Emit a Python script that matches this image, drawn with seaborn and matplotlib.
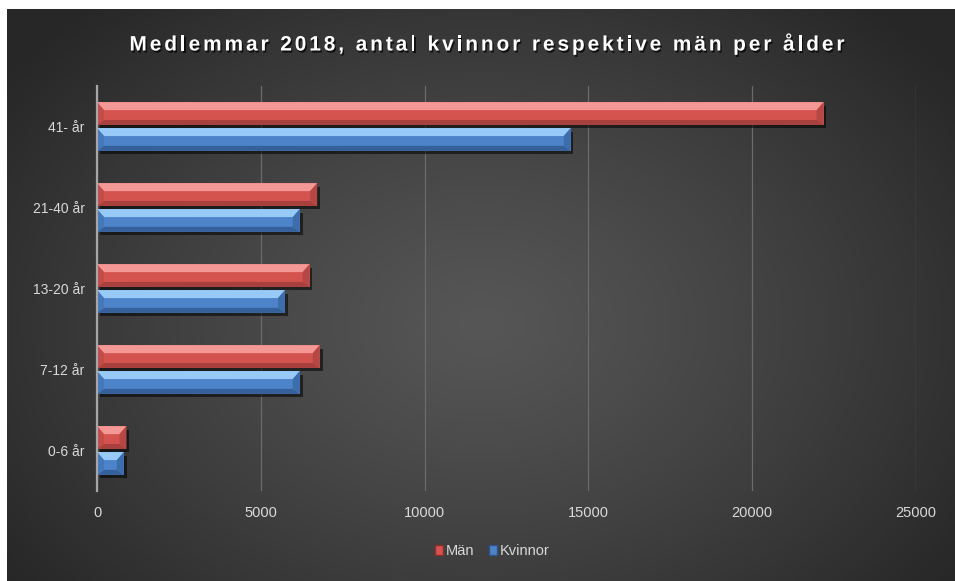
import numpy as np
import pandas as pd
import seaborn as sns
import matplotlib
matplotlib.use("Agg")
import matplotlib.pyplot as plt
from matplotlib import patheffects as pe
from matplotlib.patches import Polygon, Patch
from matplotlib.transforms import IdentityTransform
from matplotlib.font_manager import FontProperties, findfont, get_font

# data
categories = ["41- år", "21-40 år", "13-20 år", "7-12 år", "0-6 år"]
man = [22180, 6720, 6490, 6800, 900]
kvinnor = [14460, 6190, 5740, 6190, 820]
series = ["Män", "Kvinnor"]
xticks = [0, 5000, 10000, 15000, 20000, 25000]
title = "Medlemmar 2018, antal kvinnor respektive män per ålder"

df = pd.DataFrame({
    "Ålder": categories + categories,
    "Antal": man + kvinnor,
    "Kön": [series[0]] * len(man) + [series[1]] * len(kvinnor),
})

red = "#d4534f"
blue = "#4d84c9"
# light / dark facet colours for the bevel look
facets = {
    red: ("#f49896", "#a8403d", "#b54845", "#c24c48"),
    blue: ("#98caf8", "#36609a", "#3e6dab", "#4577bb"),
}
text_col = "#d9d9d9"

plt.rcParams["font.family"] = ["Liberation Sans", "DejaVu Sans"]

W, H = 955, 581
fig = plt.figure(figsize=(W / 100, H / 100), dpi=100)
fig.patch.set_facecolor("white")

# dark radial background
bg = fig.add_axes([7 / W, 0, (W - 7) / W, (H - 9) / H], zorder=0)
h, w = H - 9, W - 7
yy, xx = np.mgrid[0:h, 0:w]
r = np.sqrt(((xx - 0.5 * w) / (0.62 * w)) ** 2 + ((yy - 0.55 * h) / (0.75 * h)) ** 2)
r = np.clip(r, 0, 1)
shade = 0x56 - (0x56 - 0x27) * r ** 1.2
img = np.dstack([shade, shade, shade]) / 255.0
bg.imshow(img, aspect="auto", interpolation="bilinear")
bg.axis("off")

ax = fig.add_axes([97 / W, 1 - 491 / H, (916 - 97) / W, (491 - 86) / H], zorder=1)
ax.set_facecolor("none")

sns.barplot(data=df, x="Antal", y="Ålder", hue="Kön", orient="h",
            palette=[red, blue], saturation=1, width=0.64, gap=0.12,
            legend=False, ax=ax, zorder=3, edgecolor="none")

ax.set_xlim(0, 25000)
ax.set_xticks(xticks)
ax.set_xticklabels([str(t) for t in xticks])
ax.set_xlabel("")
ax.set_ylabel("")
ax.tick_params(axis="both", length=0, colors=text_col)
ax.tick_params(axis="x", pad=11, labelsize=10.5)
ax.tick_params(axis="y", pad=9, labelsize=10)
ax.grid(axis="x", color="#6b6b6b", lw=0.9, zorder=0)
ax.grid(axis="y", visible=False)
ax.set_axisbelow(True)
for s in ["top", "right", "bottom"]:
    ax.spines[s].set_visible(False)
ax.spines["left"].set_color("#a6a6a6")
ax.spines["left"].set_linewidth(1.6)
ax.spines["left"].set_zorder(5)

# bevel facets drawn in pixel space on top of each seaborn bar
fig.canvas.draw()
bars = list(ax.patches)
bt, bb_, bs = 8, 5, 7
for p in bars:
    col = matplotlib.colors.to_hex(p.get_facecolor())
    light, dark, right_c, left_c = facets[red if col == red else blue]
    p.set_path_effects([pe.SimplePatchShadow(offset=(2, -2.5), shadow_rgbFace="black", alpha=0.55), pe.Normal()])
    x0, y0 = p.get_x(), p.get_y()
    (px0, py_a), (px1, py_b) = ax.transData.transform([(x0, y0), (x0 + p.get_width(), y0 + p.get_height())])
    top, bot = max(py_a, py_b), min(py_a, py_b)
    s = min(bs, (px1 - px0) / 2)
    polys = [
        ([(px0, top), (px1, top), (px1 - s, top - bt), (px0 + s, top - bt)], light),
        ([(px0, bot), (px1, bot), (px1 - s, bot + bb_), (px0 + s, bot + bb_)], dark),
        ([(px1, top), (px1, bot), (px1 - s, bot + bb_), (px1 - s, top - bt)], right_c),
        ([(px0, top), (px0, bot), (px0 + s, bot + bb_), (px0 + s, top - bt)], left_c),
    ]
    for pts, c in polys:
        ax.add_patch(Polygon(pts, closed=True, facecolor=c, edgecolor="none",
                             transform=IdentityTransform(), zorder=4))

# legend
handles = [Patch(facecolor=red, edgecolor="#8a2f2c"), Patch(facecolor=blue, edgecolor="#2f5388")]
leg = fig.legend(handles, series, loc="center", bbox_to_anchor=(492 / W, 1 - 551 / H),
                 ncol=2, frameon=False, fontsize=10.5, labelcolor=text_col,
                 handlelength=0.55, handleheight=0.7, handletextpad=0.2, columnspacing=1.0)

# letter-spaced bold title with a drop shadow (advance widths from the font itself)
fp = FontProperties(family="Liberation Sans", weight="bold", size=15)
font = get_font(findfont(fp))
font.set_size(15, 100)
widths = []
for c in title:
    g = font.load_char(ord(c))
    widths.append(g.linearHoriAdvance / 65536)
target = 715
spacing = (target - sum(widths[:-1]) - widths[-1]) / (len(title) - 1)
x = 487 - target / 2
for c, wd in zip(title, widths):
    fig.text(x / W, 1 - 45 / H, c, fontproperties=fp, color="white", ha="left", va="center",
             path_effects=[pe.withSimplePatchShadow(offset=(1, -1.5), shadow_rgbFace="black", alpha=0.7)])
    x += wd + spacing

fig.savefig("out.png", dpi=100)
